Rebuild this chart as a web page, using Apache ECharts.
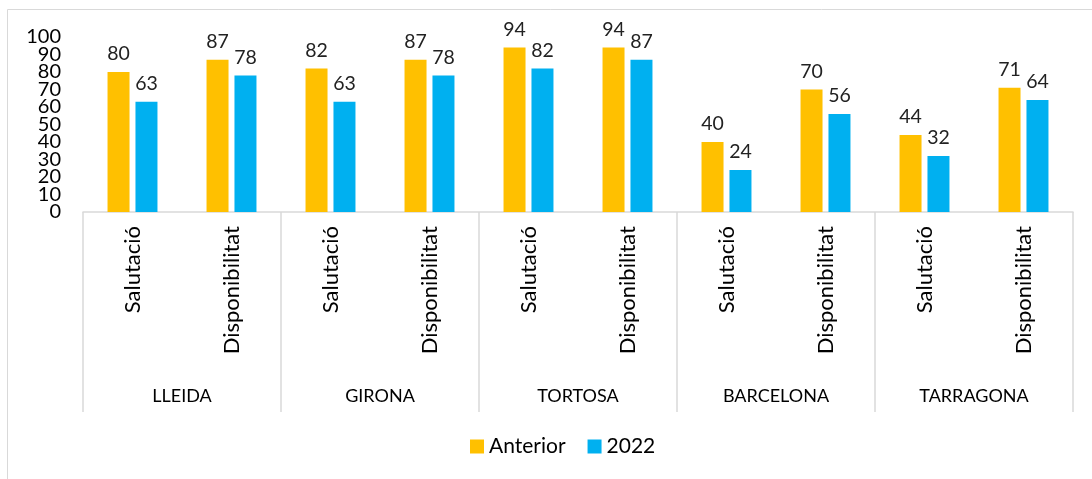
<!DOCTYPE html>
<html>
<head>
    <meta charset="utf-8">
    <title>Salutació i disponibilitat</title>
    <script src="https://cdn.jsdelivr.net/npm/echarts@6/dist/echarts.min.js"></script>
    <style>
        body { margin: 0; background: #fff; }
        #main { width: 1092px; height: 479px; }
    </style>
</head>
<body>
<div id="main"></div>
<script>
    // dades
    var categories = ['Salutació', 'Disponibilitat', 'Salutació', 'Disponibilitat', 'Salutació',
        'Disponibilitat', 'Salutació', 'Disponibilitat', 'Salutació', 'Disponibilitat'];
    var groups = ['LLEIDA', 'GIRONA', 'TORTOSA', 'BARCELONA', 'TARRAGONA'];
    var anterior = [80, 87, 82, 87, 94, 94, 40, 70, 44, 71];
    var any2022 = [63, 78, 63, 78, 82, 87, 24, 56, 32, 64];
    var yTicks = [0, 10, 20, 30, 40, 50, 60, 70, 80, 90, 100];

    var font = 'Lato, "Open Sans", sans-serif';
    var myChart = echarts.init(document.getElementById('main'));

    // l'eix amaga les etiquetes 10 i 90 quan se solapen: un segon eix igual les dibuixa
    var yBase = {
        type: 'value',
        min: yTicks[0],
        max: yTicks[yTicks.length - 1],
        interval: 10,
        position: 'left',
        splitLine: { show: false },
        axisLine: { show: false },
        axisTick: { show: false }
    };

    var option = {
        animation: false,
        textStyle: { fontFamily: font },
        graphic: [{
            type: 'rect',
            shape: { x: 7.5, y: 9.5, width: 1200, height: 600 },
            style: { fill: 'none', stroke: '#d9d9d9', lineWidth: 1 },
            silent: true
        }],
        grid: { left: 83, right: 19, top: 37, bottom: 267 },
        legend: {
            bottom: 17,
            left: 465,
            itemWidth: 14,
            itemHeight: 14,
            itemGap: 22,
            icon: 'rect',
            textStyle: { fontSize: 21, color: '#000', fontFamily: font },
            data: ['Anterior', '2022']
        },
        xAxis: [{
            type: 'category',
            data: categories,
            position: 'bottom',
            axisLine: { onZero: false, lineStyle: { color: '#d9d9d9', width: 1.5 } },
            axisTick: { show: false },
            axisLabel: { rotate: 90, interval: 0, fontSize: 22, color: '#000', margin: 14 }
        }, {
            // fila de grups, amb separadors que pugen fins l'eix
            type: 'category',
            data: groups,
            position: 'bottom',
            offset: 200,
            axisLine: { show: false, onZero: false },
            axisTick: { show: true, inside: true, length: 200, lineStyle: { color: '#d9d9d9', width: 1.5 } },
            axisLabel: { inside: true, fontSize: 18, color: '#000', interval: 0, margin: 7 }
        }],
        yAxis: [
            Object.assign({}, yBase, {
                axisLabel: {
                    fontSize: 20, color: '#000', margin: 22,
                    showMinLabel: true, showMaxLabel: true
                }
            }),
            Object.assign({}, yBase, {
                axisLabel: {
                    fontSize: 20, color: '#000', margin: 22,
                    showMinLabel: false, showMaxLabel: false,
                    formatter: function (v) { return (v === yTicks[1] || v === yTicks[9]) ? String(v) : ''; }
                }
            })
        ],
        series: [{
            name: 'Anterior',
            type: 'bar',
            data: anterior,
            barWidth: 22,
            barGap: '27%',
            itemStyle: { color: '#FFC000' },
            label: { show: true, position: 'top', distance: 8, fontSize: 19.5, color: '#222' }
        }, {
            name: '2022',
            type: 'bar',
            data: any2022,
            barWidth: 22,
            itemStyle: { color: '#00B0F0' },
            label: { show: true, position: 'top', distance: 8, fontSize: 19.5, color: '#222' }
        }]
    };

    myChart.setOption(option);
</script>
</body>
</html>
